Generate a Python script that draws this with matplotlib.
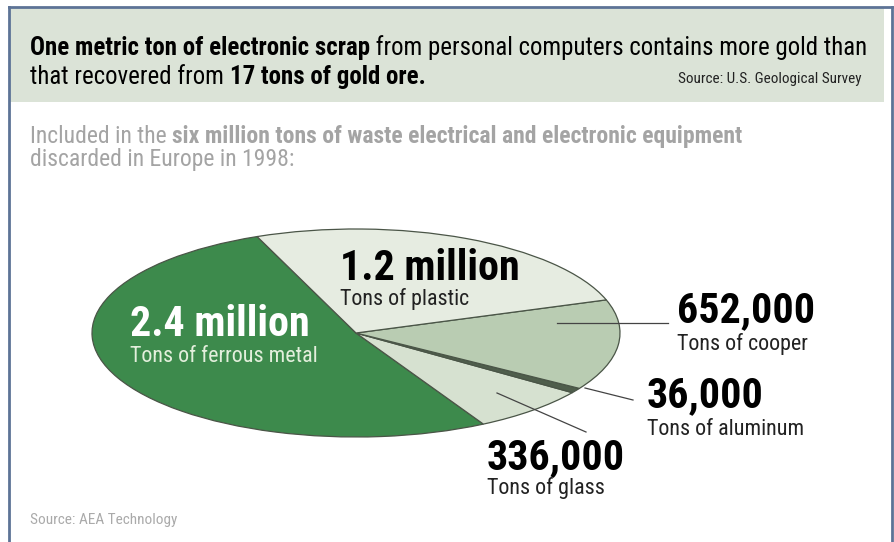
import matplotlib
matplotlib.use("Agg")
import matplotlib.pyplot as plt
from matplotlib import font_manager
from matplotlib.font_manager import FontProperties
from matplotlib.patches import Rectangle
from matplotlib.lines import Line2D

W, H = 895, 542

# waste composition, tons (EU, 1998)
materials = ["ferrous metal", "glass", "aluminum", "cooper", "plastic"]
tons = [2_400_000, 336_000, 36_000, 652_000, 1_200_000]
value_labels = ["2.4 million", "336,000", "36,000", "652,000", "1.2 million"]
wedge_colors = ["#3d8a4c", "#d6e1d0", "#4f5e4c", "#b9ccb2", "#e6ece1"]


def narrow_fonts():
    """Find a condensed sans (regular, bold) pair among installed fonts."""
    prefs = ["liberation sans narrow", "roboto condensed", "open sans condensed",
             "noto sans", "dejavu sans"]
    found = {}
    for f in font_manager.fontManager.ttflist:
        fn = f.fname.lower()
        if "narrow" not in fn and "condensed" not in fn:
            continue
        if "semicondensed" in fn or "extracondensed" in fn or "italic" in fn or "oblique" in fn:
            continue
        if "mono" in fn or "serif" in fn.replace("sans", "") and "sans" not in fn:
            continue
        name = f.name.lower()
        for p in prefs:
            if name.startswith(p.split(" condensed")[0]):
                w = f.weight if isinstance(f.weight, int) else (700 if "bold" in str(f.weight) else 400)
                key = "bold" if ("bold" in fn and "semibold" not in fn and "extrabold" not in fn) else None
                if key is None and w == 400 and "light" not in fn and "medium" not in fn \
                        and "thin" not in fn and "black" not in fn:
                    key = "normal"
                if key:
                    found.setdefault(p, {}).setdefault(key, f.fname)
    for p in prefs:
        if p in found and "normal" in found[p] and "bold" in found[p]:
            return FontProperties(fname=found[p]["normal"]), FontProperties(fname=found[p]["bold"])
    return (FontProperties(family="DejaVu Sans", stretch="condensed"),
            FontProperties(family="DejaVu Sans", stretch="condensed", weight="bold"))


REG, BOLD = narrow_fonts()

fig = plt.figure(figsize=(W / 100, H / 100), dpi=100)
fig.patch.set_facecolor("white")
renderer = fig.canvas.get_renderer()


def fx(x):
    return x / W


def fy(y):
    return 1 - y / H


def prop(weight, size):
    p = (BOLD if weight == "bold" else REG).copy()
    p.set_size(size)
    return p


def width_of(parts, size):
    total = 0
    for s, weight in parts:
        t = fig.text(0, 0, s, fontproperties=prop(weight, size))
        total += t.get_window_extent(renderer=renderer).width
        t.remove()
    return total


def fit_size(parts, target_px, size=20):
    return size * target_px / width_of(parts, size)


def runs(x, y, parts, size, color="black"):
    """Draw a line of text made of (string, weight) runs, left to right."""
    for s, weight in parts:
        t = fig.text(fx(x), fy(y), s, fontproperties=prop(weight, size),
                     color=color, va="baseline", ha="left")
        x += t.get_window_extent(renderer=renderer).width


# outer frame and header band
fig.add_artist(Rectangle((fx(9), fy(102)), fx(884) - fx(9), fy(8) - fy(102),
                         transform=fig.transFigure, facecolor="#dbe3d7",
                         edgecolor="none", zorder=0))
for xs, ys in [([9, 9], [7, 542]), ([892, 892], [7, 542]), ([9, 892], [7, 7])]:
    fig.add_artist(Line2D([fx(v) for v in xs], [fy(v) for v in ys],
                          transform=fig.transFigure, color="#5d7396", lw=2))

head1 = [("One metric ton of electronic scrap", "bold"),
         (" from personal computers contains more gold than", "normal")]
head2 = [("that recovered from ", "normal"), ("17 tons of gold ore.", "bold")]
hs = min(fit_size(head1, 836), 19)
runs(30, 55, head1, hs)
runs(30, 84, head2, hs)

src_top = [("Source: U.S. Geological Survey", "normal")]
fig.text(fx(862), fy(83), src_top[0][0],
         fontproperties=prop("normal", min(fit_size(src_top, 182), 11)),
         ha="right", va="baseline", color="#222222")

sub1 = [("Included in the ", "normal"),
        ("six million tons of waste electrical and electronic equipment", "bold")]
sub2 = [("discarded in Europe in 1998:", "normal")]
sb = min(fit_size(sub1, 732), 17)
runs(30, 143, sub1, sb, color="#a4a4a4")
runs(30, 166, sub2, sb, color="#a4a4a4")

src_bot = [("Source: AEA Technology", "normal")]
fig.text(fx(30), fy(524), src_bot[0][0],
         fontproperties=prop("normal", min(fit_size(src_bot, 148), 11)),
         color="#aaaaaa", va="baseline")

# tilted pie: a unit pie stretched over an elliptical box
left, right, top, bottom = 92, 620, 229, 437
ax = fig.add_axes([fx(left), fy(bottom), fx(right) - fx(left), fy(top) - fy(bottom)])
ax.pie(tons, colors=wedge_colors, startangle=112, counterclock=True, radius=1,
       wedgeprops=dict(edgecolor="#4a5547", linewidth=0.9))
ax.set_aspect("auto")
ax.set_xlim(-1, 1)
ax.set_ylim(-1, 1)
ax.axis("off")

# leader lines (figure pixels)
leaders = [((557, 323), (668, 323)), ((585, 388), (633, 400)), ((497, 393), (586, 432))]
for (x0, y0), (x1, y1) in leaders:
    fig.add_artist(Line2D([fx(x0), fx(x1)], [fy(y0), fy(y1)],
                          transform=fig.transFigure, color="#444444", lw=0.9))

# value labels: (index, x, value baseline, caption baseline, value color, caption color)
label_pos = [
    (0, 130, 336, 362, "white", "#e3efdc"),
    (4, 340, 280, 305, "black", "#222222"),
    (3, 677, 322, 350, "black", "#222222"),
    (2, 647, 407, 435, "black", "#222222"),
    (1, 487, 469, 494, "black", "#222222"),
]
vs = min(fit_size([("652,000", "bold")], 138), 31)
cs = min(fit_size([("Tons of ferrous metal", "normal")], 188), 16)
for i, x, yb, yc, c1, c2 in label_pos:
    fig.text(fx(x), fy(yb), value_labels[i], fontproperties=prop("bold", vs),
             color=c1, va="baseline")
    fig.text(fx(x), fy(yc), "Tons of " + materials[i], fontproperties=prop("normal", cs),
             color=c2, va="baseline")

fig.savefig("out.png", dpi=100)
